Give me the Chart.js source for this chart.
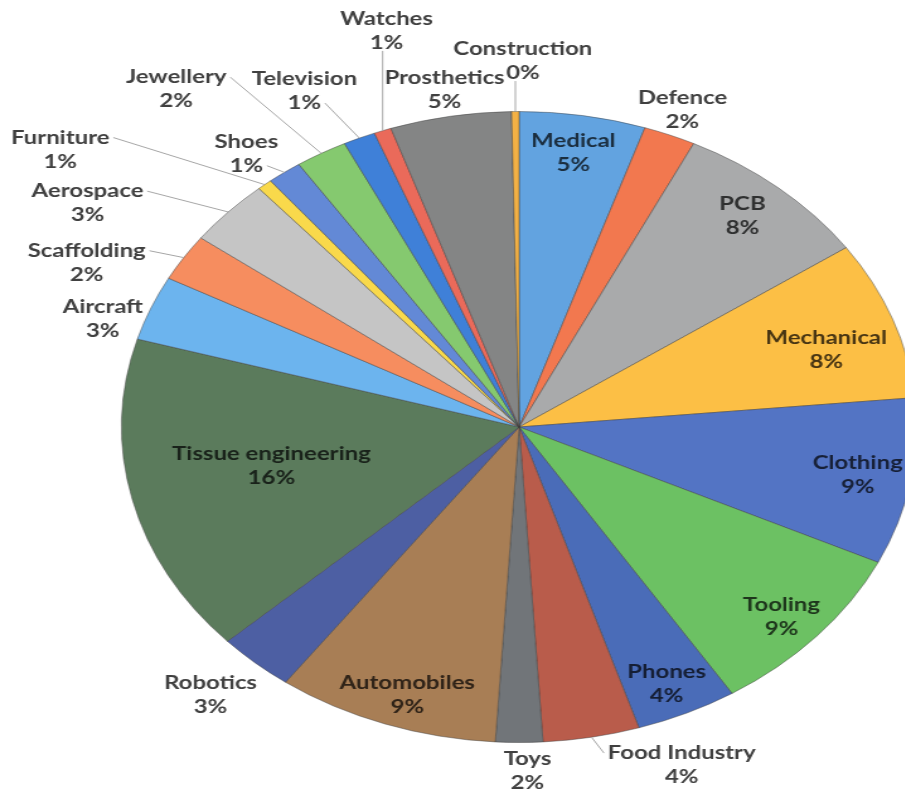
<!DOCTYPE html>
<html>
<head>
<meta charset="utf-8">
<title>Applications share</title>
<script src="https://cdn.jsdelivr.net/npm/chart.js@4.4.1/dist/chart.umd.min.js"></script>
<style>
  html, body { margin: 0; padding: 0; background: #fff; width: 905px; height: 793px; overflow: hidden; }
  /* the source picture is stretched sideways, so the whole chart is too */
  #wrap {
    position: absolute; left: 0; top: 0;
    width: 740px; height: 793px;
    transform: scaleX(1.26); transform-origin: 0 0;
  }
</style>
</head>
<body>
<div id="wrap"><canvas id="chart"></canvas></div>
<script>
'use strict';

// ── Data ──────────────────────────────────────────────────────
const categories = [
  'Medical', 'Defence', 'PCB', 'Mechanical', 'Clothing', 'Tooling', 'Phones',
  'Food Industry', 'Toys', 'Automobiles', 'Robotics', 'Tissue engineering',
  'Aircraft', 'Scaffolding', 'Aerospace', 'Furniture', 'Shoes', 'Jewellery',
  'Television', 'Watches', 'Prosthetics', 'Construction'
];
const shares = [
  5.1, 2.1, 8.1, 8.1, 8.5, 8.9, 4.1,
  3.9, 1.9, 9.0, 3.1, 16.3,
  3.3, 2.4, 3.4, 0.6, 1.4, 2.1,
  1.3, 0.7, 4.9, 0.3
];

// ── Look ──────────────────────────────────────────────────────
const sliceColors = [
  '#62a3e0', '#f2784f', '#a9aaab', '#fcbf45', '#5374c4', '#6cc163', '#4a6cb8',
  '#b95c4b', '#717579', '#a87e55', '#4d5fa3', '#5b7b5c',
  '#6cb4ee', '#f68d5f', '#c5c5c5', '#f9d94b', '#6389d6', '#85c96f',
  '#3f80d8', '#ea6a5a', '#848585', '#f3b145'
];

// label placement: [turn from the slice middle in degrees, distance as share of radius]
const labelSpots = {
  'Medical':            [-0.3, 0.88],
  'Defence':            [0,    1.085],
  'PCB':                [-0.7, 0.874],
  'Mechanical':         [2.5,  0.81],
  'Clothing':           [0,    0.865],
  'Tooling':            [0.9,  0.894],
  'Phones':             [0.5,  0.896],
  'Food Industry':      [-10.4, 1.147],
  'Toys':               [-1.1, 1.089],
  'Automobiles':        [-1.4, 0.895],
  'Robotics':           [0.8,  1.151],
  'Tissue engineering': [2.2,  0.635],
  'Aircraft':           [-4.0, 1.102],
  'Scaffolding':        [-6.9, 1.206],
  'Aerospace':          [-9.8, 1.297],
  'Furniture':          [-12.9, 1.451],
  'Shoes':              [-2.2, 1.105],
  'Jewellery':          [-9.0, 1.375],
  'Television':         [-3.2, 1.194],
  'Watches':            [5.2,  1.299],
  'Prosthetics':        [0,    1.086],
  'Construction':       [1.0,  1.16]
};
const withLeader = ['Construction', 'Watches', 'Television', 'Jewellery', 'Shoes',
  'Furniture', 'Aerospace', 'Scaffolding', 'Food Industry'];

const LABEL_FONT  = 'bold 19px Lato, "Open Sans", sans-serif';
const LINE_H      = 24;
const OUTER_TEXT  = '#404040';
const LEADER      = '#a6a6a6';

function darken(hex, k) {
  const n = parseInt(hex.slice(1), 16);
  const r = Math.round(((n >> 16) & 255) * k);
  const g = Math.round(((n >> 8) & 255) * k);
  const b = Math.round((n & 255) * k);
  return `rgb(${r},${g},${b})`;
}

// ── Data labels with leader lines ─────────────────────────────
const sliceLabels = {
  id: 'sliceLabels',
  afterDraw(chart) {
    const { ctx } = chart;
    const meta  = chart.getDatasetMeta(0);
    const total = shares.reduce((a, b) => a + b, 0);

    ctx.save();
    ctx.font = LABEL_FONT;
    ctx.textAlign = 'center';
    ctx.textBaseline = 'middle';

    meta.data.forEach((arc, i) => {
      const name = categories[i];
      const { x, y, startAngle, endAngle, outerRadius } = arc.getProps(
        ['x', 'y', 'startAngle', 'endAngle', 'outerRadius'], true);
      const mid = (startAngle + endAngle) / 2;
      const [turn, dist] = labelSpots[name];
      const a  = mid + turn * Math.PI / 180;
      const lx = x + Math.cos(a) * outerRadius * dist;
      const ly = y + Math.sin(a) * outerRadius * dist;

      const lines = [name, Math.round(shares[i] / total * 100) + '%'];
      const ys    = [ly - LINE_H / 2, ly + LINE_H / 2];
      const ws    = lines.map(t => ctx.measureText(t).width);

      if (withLeader.includes(name)) {
        const rx = x + Math.cos(mid) * outerRadius;
        const ry = y + Math.sin(mid) * outerRadius;
        const half   = Math.max(...ws) / 2;
        const left   = lx - half, right = lx + half;
        const bottom = ly + LINE_H;
        let sx, sy;
        if (ry > bottom && rx >= left && rx <= right) {
          sx = rx; sy = bottom - 4;
        } else if (rx > right) {
          const d = ws.map((w, k) => Math.hypot(lx + w / 2 - rx, ys[k] - ry));
          const k = d[0] <= d[1] ? 0 : 1;
          sx = lx + ws[k] / 2 + 3; sy = ys[k];
        } else {
          const d = ws.map((w, k) => Math.hypot(lx - w / 2 - rx, ys[k] - ry));
          const k = d[0] <= d[1] ? 0 : 1;
          sx = lx - ws[k] / 2 - 3; sy = ys[k];
        }
        ctx.strokeStyle = LEADER;
        ctx.lineWidth = 1;
        ctx.beginPath();
        ctx.moveTo(sx, sy);
        ctx.lineTo(rx, ry);
        ctx.stroke();
      }

      ctx.fillStyle = dist < 1 ? darken(sliceColors[i], 0.28) : OUTER_TEXT;
      lines.forEach((t, k) => ctx.fillText(t, lx, ys[k]));
    });
    ctx.restore();
  }
};

new Chart(document.getElementById('chart'), {
  type: 'pie',
  data: {
    labels: categories,
    datasets: [{
      data: shares,
      backgroundColor: sliceColors,
      borderColor: 'rgba(60,60,60,0.45)',
      borderWidth: 1
    }]
  },
  options: {
    responsive: true,
    maintainAspectRatio: false,
    animation: false,
    layout: { padding: { left: 96, right: 12, top: 111, bottom: 50 } },
    plugins: {
      legend: { display: false },
      tooltip: { enabled: false }
    }
  },
  plugins: [sliceLabels]
});
</script>
</body>
</html>
